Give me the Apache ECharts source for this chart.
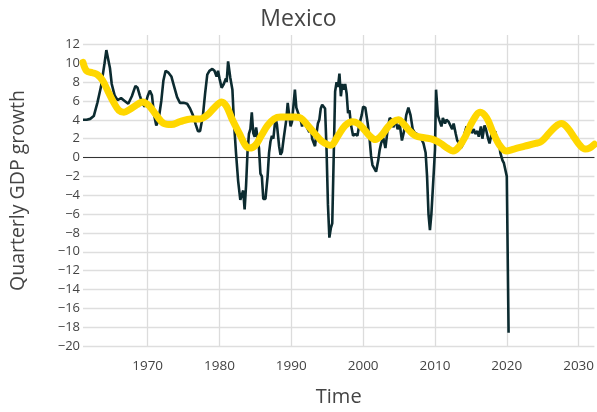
<!DOCTYPE html>
<html>
<head>
<meta charset="utf-8">
<script src="https://cdn.jsdelivr.net/npm/echarts@6/dist/echarts.min.js"></script>
<style>html,body{margin:0;padding:0;background:#fff}#c{width:597px;height:412px}</style>
</head>
<body>
<div id="c"></div>
<script>
var titleText = 'Mexico';
var xName = 'Time';
var yName = 'Quarterly GDP growth';
var yTickMin = -20, yTickMax = 12, yStep = 2;
var xDecades = [1970, 1980, 1990, 2000, 2010, 2020, 2030];

var gdpYears = [
1961.0,1961.5,1962.0,1962.5,1963.0,1963.5,1964.0,1964.25,1964.5,1964.75,1965.0,1965.4,1965.8,1966.3,1966.8,1967.3,1967.8,1968.3,1968.6,1968.9,
1969.3,1969.6,1970.0,1970.3,1970.6,1970.9,1971.2,1971.5,1971.9,1972.2,1972.5,1972.9,1973.3,1973.7,1974.1,1974.5,1975.0,1975.5,1975.9,1976.3,
1976.7,1977.0,1977.3,1977.7,1978.0,1978.3,1978.6,1979.0,1979.3,1979.6,1979.8,1980.0,1980.3,1980.6,1980.9,1981.0,1981.2,1981.5,1981.8,1982.0,
1982.3,1982.6,1982.9,1983.1,1983.3,1983.5,1983.7,1983.9,1984.1,1984.3,1984.5,1984.7,1984.9,1985.1,1985.3,1985.5,1985.7,1985.9,1986.1,1986.4,
1986.7,1986.9,1987.1,1987.3,1987.5,1987.8,1988.0,1988.3,1988.5,1988.7,1988.9,1989.1,1989.3,1989.5,1989.7,1989.9,1990.1,1990.3,1990.5,1990.7,
1990.9,1991.1,1991.3,1991.5,1991.7,1991.9,1992.1,1992.3,1992.5,1992.7,1992.9,1993.1,1993.3,1993.5,1993.7,1993.9,1994.1,1994.3,1994.5,1994.7,
1994.9,1995.1,1995.3,1995.5,1995.7,1995.9,1996.1,1996.3,1996.5,1996.7,1996.9,1997.1,1997.3,1997.5,1997.7,1997.9,1998.1,1998.3,1998.6,1998.9,
1999.2,1999.5,1999.8,2000.0,2000.3,2000.6,2000.9,2001.1,2001.3,2001.5,2001.8,2002.1,2002.3,2002.5,2002.8,2003.1,2003.4,2003.7,2004.0,2004.2,
2004.5,2004.8,2005.1,2005.4,2005.7,2006.0,2006.3,2006.6,2006.9,2007.2,2007.5,2007.8,2008.1,2008.4,2008.7,2008.9,2009.1,2009.3,2009.5,2009.8,
2010.0,2010.15,2010.4,2010.6,2010.9,2011.1,2011.4,2011.6,2011.9,2012.1,2012.4,2012.6,2012.9,2013.1,2013.4,2013.6,2013.9,2014.1,2014.4,2014.6,
2014.9,2015.1,2015.4,2015.6,2015.9,2016.1,2016.4,2016.6,2016.9,2017.1,2017.4,2017.6,2017.9,2018.1,2018.4,2018.6,2018.9,2019.1,2019.4,2019.6,
2019.8,2020.0,2020.25
];
var gdpValues = [
4.0,4.0,4.1,4.4,5.8,7.5,10.0,11.4,11.2,9.5,7.8,6.6,6.1,6.3,6.0,5.7,6.5,7.6,7.4,6.6,
5.7,5.4,6.5,7.1,6.6,4.5,3.4,3.9,6.0,8.2,9.2,9.0,8.6,7.5,6.4,5.8,5.8,5.7,5.2,4.5,
3.5,2.8,2.8,4.5,6.8,8.8,9.2,9.4,9.2,8.6,9.2,8.4,7.4,7.8,8.4,8.0,10.2,8.5,7.2,4.0,
0.5,-2.5,-4.5,-4.3,-3.5,-5.5,-3.0,0.5,2.5,3.0,4.8,2.6,2.2,3.2,3.0,1.0,-1.7,-2.0,-4.4,-4.4,
-2.0,0.5,1.7,2.3,2.0,4.2,3.5,1.2,0.3,0.6,1.8,2.9,4.0,5.8,4.5,3.3,3.8,5.5,7.2,5.3,
5.4,4.4,4.0,3.3,3.9,3.6,3.8,3.0,2.7,3.4,2.0,1.8,1.2,2.5,3.6,4.0,5.2,5.6,5.4,5.2,
1.0,-5.0,-8.5,-7.5,-7.0,0.0,7.0,8.0,7.5,8.9,6.5,7.8,7.2,7.8,6.8,4.7,5.0,3.5,2.3,2.5,
2.3,3.6,4.5,5.4,5.3,3.8,2.0,0.2,-0.8,-1.0,-1.5,-0.3,0.8,1.5,2.1,1.0,2.9,4.2,4.0,3.2,
4.0,3.0,3.5,1.8,2.8,4.5,5.3,4.5,3.0,2.6,2.5,2.2,2.0,1.5,0.5,-2.0,-6.0,-7.7,-6.0,-2.0,
0.8,7.2,4.5,4.0,3.3,4.2,3.6,4.0,3.8,4.0,3.0,3.6,2.5,1.8,1.5,1.0,1.4,2.5,3.3,2.6,
3.2,2.6,3.0,2.5,2.8,2.2,3.3,2.0,3.4,3.0,2.0,1.5,2.6,2.0,2.8,1.9,1.8,0.5,-0.3,-0.6,
-0.8,-2.0,-18.6
];

var trendYears = [
1961.0,1961.5,1962.3,1963.0,1963.7,1964.5,1965.3,1966.0,1966.7,1967.5,1968.5,1969.3,1970.2,1971.2,1972.3,1973.3,1974.5,1976.0,1977.3,1978.3,
1979.3,1980.3,1981.0,1981.8,1982.8,1983.6,1984.2,1985.0,1985.8,1986.7,1987.6,1988.5,1989.5,1990.5,1991.3,1992.2,1993.2,1994.3,1995.5,1996.5,
1997.5,1998.5,1999.3,2000.1,2000.9,2001.7,2002.5,2003.4,2004.2,2004.9,2005.7,2006.5,2007.3,2008.5,2009.8,2010.8,2011.7,2012.5,2013.3,2014.2,
2015.2,2016.3,2017.2,2018.0,2019.0,2019.9,2021.0,2022.5,2024.0,2024.8,2025.8,2026.8,2027.6,2028.5,2029.5,2030.3,2030.9,2031.5,2032.2
];
var trendValues = [
10.1,9.2,9.0,8.8,8.2,7.0,5.8,5.0,4.8,5.1,5.6,5.9,5.5,4.5,3.6,3.5,3.8,4.1,4.1,4.5,
5.3,5.9,5.4,4.0,2.5,1.3,1.0,1.3,2.3,3.4,4.1,4.3,4.3,4.3,4.2,3.5,2.6,1.7,1.3,2.3,
3.4,3.8,3.6,3.0,2.3,1.9,2.3,3.2,3.8,4.0,3.5,2.8,2.3,2.1,1.9,1.5,1.0,0.7,1.1,2.2,
3.8,4.8,4.2,2.8,1.3,0.7,0.9,1.2,1.5,1.7,2.5,3.3,3.6,3.1,2.0,1.2,0.9,1.0,1.4
];

function pairs(xs, ys) { return xs.map(function (x, i) { return [x, ys[i]]; }); }

var xMin = 1961, xMax = 2032.2;
var font = 'Open Sans';
var textCol = '#444';

var vCols = [];
for (var i = 0; i < 10; i++) vCols.push(((xMin + i) % 10 === 0) ? '#dcdcdc' : 'rgba(0,0,0,0)');
var hCols = [];
for (var v = yTickMin; v <= yTickMax; v += yStep) hCols.push('#dedede');
hCols.push('rgba(0,0,0,0)');

var chart = echarts.init(document.getElementById('c'), null, { renderer: 'canvas' });
chart.setOption({
  animation: false,
  backgroundColor: '#fff',
  title: {
    text: titleText, left: 'center', top: 3,
    textStyle: { fontFamily: font, fontSize: 23, fontWeight: 'normal', color: textCol }
  },
  grid: { left: 81, right: 2, top: 35, bottom: 66 },
  xAxis: {
    type: 'value', min: xMin, max: xMax, interval: 1,
    name: xName, nameLocation: 'middle', nameGap: 41,
    nameTextStyle: { fontFamily: font, fontSize: 20, color: textCol },
    axisLine: { show: false }, axisTick: { show: false },
    axisLabel: {
      fontFamily: font, fontSize: 13.5, color: textCol, margin: 13,
      showMinLabel: false, showMaxLabel: false,
      formatter: function (val) { return xDecades.indexOf(Math.round(val)) >= 0 && Math.abs(val - Math.round(val)) < 1e-6 ? String(Math.round(val)) : ''; }
    },
    splitLine: { show: true, lineStyle: { color: vCols, width: 1.3 } }
  },
  yAxis: {
    type: 'value', min: yTickMin, max: 13, interval: yStep,
    name: yName, nameLocation: 'middle', nameGap: 55, nameRotate: 90,
    nameTextStyle: { fontFamily: font, fontSize: 19.5, color: textCol },
    axisLine: { show: false }, axisTick: { show: false },
    axisLabel: {
      fontFamily: font, fontSize: 13, color: textCol, margin: 3,
      showMaxLabel: false,
      formatter: function (val) { return val > yTickMax ? '' : (val < 0 ? '\u2212' + Math.abs(val) : String(val)); }
    },
    splitLine: { show: true, lineStyle: { color: hCols, width: 1.3 } }
  },
  series: [
    {
      type: 'line', data: pairs(gdpYears, gdpValues), showSymbol: false, symbol: 'none',
      lineStyle: { color: '#0c2b30', width: 2.6 }, itemStyle: { color: '#0c2b30' },
      z: 3,
      markLine: {
        silent: true, symbol: 'none', label: { show: false },
        lineStyle: { color: '#333', width: 1.2, type: 'solid' },
        data: [{ yAxis: 0 }], z: 1
      }
    },
    {
      type: 'line', data: pairs(trendYears, trendValues), showSymbol: false, symbol: 'none',
      smooth: 0.35,
      lineStyle: { color: '#FFD700', width: 7, cap: 'round', join: 'round' }, itemStyle: { color: '#FFD700' },
      z: 4
    }
  ]
});
</script>
</body>
</html>
